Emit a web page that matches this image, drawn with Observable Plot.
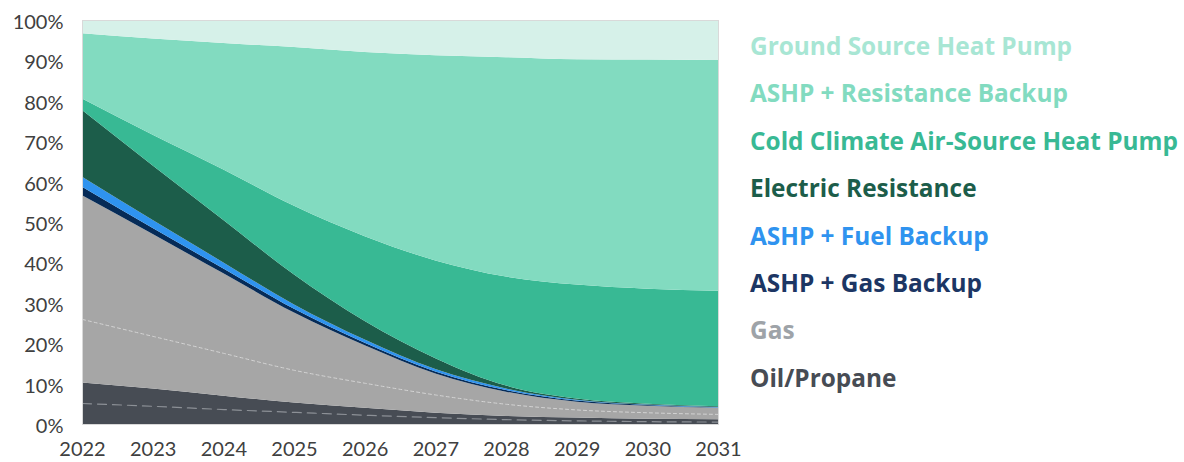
<!DOCTYPE html>
<html><head><meta charset="utf-8">
<script src="https://cdn.jsdelivr.net/npm/d3@7"></script>
<script src="https://cdn.jsdelivr.net/npm/@observablehq/plot@0.6"></script>
<style>
body{margin:0;background:#fff;}
#wrap{position:relative;width:1184px;height:462px;overflow:hidden;}
#chart{position:absolute;left:0;top:0;}
#legend{position:absolute;left:740px;top:0;}
</style></head><body>
<div id="wrap"><div id="chart"></div><div id="legend"></div></div>
<script>
// ---- data (percent shares, bottom of stack first) ----
const years = [2022, 2023, 2024, 2025, 2026, 2027, 2028, 2029, 2030, 2031];
const seriesNames = ["Oil/Propane", "Gas", "ASHP + Gas Backup", "ASHP + Fuel Backup", "Electric Resistance", "Cold Climate Air-Source Heat Pump", "ASHP + Resistance Backup", "Ground Source Heat Pump"];
const oilPropane   = [10.3, 8.8, 7.0, 5.3, 4.0, 2.8, 2.0, 1.6, 1.3, 1.2];
const gas          = [46.3, 38.2, 30.3, 22.3, 15.5, 9.7, 6.0, 3.9, 3.2, 2.8];
const ashpGas      = [2.1, 1.5, 1.2, 0.9, 0.6, 0.5, 0.4, 0.3, 0.2, 0.1];
const ashpFuel     = [2.5, 2.0, 1.5, 1.1, 0.8, 0.6, 0.4, 0.2, 0.1, 0.1];
const electricRes  = [16.5, 13.5, 10.5, 7.4, 4.6, 2.7, 0.7, 0.3, 0.2, 0.2];
const coldClimate  = [2.9, 7.6, 12.5, 17.0, 21.0, 24.2, 27.0, 28.2, 28.5, 28.6];
const ashpRes      = [16.1, 23.8, 31.3, 39.3, 45.6, 50.8, 54.3, 55.8, 56.7, 57.1];
const groundSource = [3.3, 4.6, 5.7, 6.7, 7.9, 8.7, 9.2, 9.7, 9.8, 9.9];
// thin dashed guide lines drawn inside the gas and oil bands (absolute %)
const gasDashed = [26.0, 21.8, 17.6, 13.4, 10.2, 7.3, 5.0, 3.6, 2.9, 2.5];
const oilDashed = [5.2, 4.5, 3.7, 3.0, 2.3, 1.7, 1.2, 0.9, 0.7, 0.6];
const yTicks = [0, 10, 20, 30, 40, 50, 60, 70, 80, 90, 100];
const areaColors = ["#474c54", "#a6a6a6", "#062b57", "#2f93ef", "#1c5d4a", "#38b994", "#82dbc0", "#d6f1e9"];
const legendColors = ["#474c54", "#9ea3a8", "#1c3664", "#2f93ef", "#1c5d4a", "#38b994", "#82dbc0", "#a8e6d4"];

// ---- build table ----
const seriesValues = [oilPropane, gas, ashpGas, ashpFuel, electricRes, coldClimate, ashpRes, groundSource];
const rows = [];
seriesNames.forEach((name, s) => years.forEach((year, i) => rows.push({series: name, year, value: seriesValues[s][i]})));
const gasDashRows = years.map((year, i) => ({year, value: gasDashed[i]}));
const oilDashRows = years.map((year, i) => ({year, value: oilDashed[i]}));

const chart = Plot.plot({
  width: 770,
  height: 462,
  marginLeft: 82,
  marginRight: 52,
  marginTop: 20,
  marginBottom: 38,
  style: {fontFamily: "Lato, sans-serif", fontSize: "20px", color: "#404040", background: "transparent"},
  x: {domain: [2022, 2031], label: null},
  y: {domain: [0, 100], label: null},
  color: {domain: seriesNames, range: areaColors},
  marks: [
    Plot.areaY(rows, {x: "year", y: "value", z: "series", fill: "series", order: seriesNames, curve: "monotone-x"}),
    Plot.lineY(gasDashRows, {x: "year", y: "value", stroke: "#d4d4d4", strokeWidth: 1, strokeDasharray: "3,3", curve: "monotone-x"}),
    Plot.lineY(oilDashRows, {x: "year", y: "value", stroke: "#8c9096", strokeWidth: 1.2, strokeDasharray: "9,6", curve: "monotone-x"}),
    Plot.frame({stroke: "#d9d9d9"}),
    Plot.axisY({ticks: yTicks, tickFormat: d => d + "%", tickSize: 0, tickPadding: 19, dy: 2, label: null}),
    Plot.axisX({ticks: years, tickFormat: d => String(d), tickSize: 0, tickPadding: 17, label: null})
  ]
});
document.getElementById("chart").appendChild(chart);

// ---- legend (top to bottom = top of stack first) ----
const lsvg = d3.select("#legend").append("svg").attr("width", 444).attr("height", 462);
const legendOrder = seriesNames.map((n, i) => ({name: n, color: legendColors[i]})).reverse();
lsvg.selectAll("text").data(legendOrder).join("text")
  .attr("x", 10)
  .attr("y", (d, i) => 55 + 47.4 * i)
  .attr("fill", d => d.color)
  .style("font-family", "'Open Sans', sans-serif")
  .style("font-weight", "700")
  .style("font-size", "24.4px")
  .text(d => d.name);
</script>
</body></html>
